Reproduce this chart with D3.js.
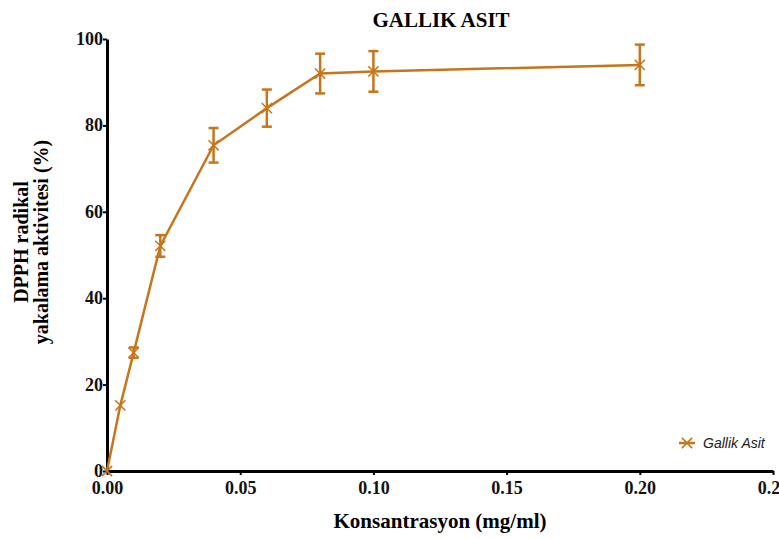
<!DOCTYPE html>
<html>
<head>
<meta charset="utf-8">
<script src="https://cdn.jsdelivr.net/npm/d3@7"></script>
<style>
  body { margin: 0; background: #fff; }
  svg { display: block; }
</style>
</head>
<body>
<div id="chart"></div>
<script>
// data
const concentrations = [0, 0.005, 0.01, 0.02, 0.04, 0.06, 0.08, 0.10, 0.20]
const activity = [0, 15.2, 27.4, 52.1, 75.4, 84.0, 92.0, 92.5, 94.0]
const errors = [0, 0, 1.2, 2.5, 4.0, 4.3, 4.6, 4.7, 4.7]
const xTicks = [0, 0.05, 0.10, 0.15, 0.20, 0.25]
const yTicks = [0, 20, 40, 60, 80, 100]
const seriesName = 'Gallik Asit'

const w = 779
const h = 539
const pLeft = 107, pRight = 773, pTop = 39, pBottom = 471
const color = '#c8741a'
const serif = '"Liberation Serif", "Times New Roman", serif'

const svg = d3.select('#chart')
    .append('svg')
    .attr('width', w)
    .attr('height', h)

const xScale = d3.scaleLinear().domain([0, 0.25]).range([pLeft, pRight])
const yScale = d3.scaleLinear().domain([0, 100]).range([pBottom, pTop])

// axes
const xAxis = d3.axisBottom(xScale)
    .tickValues(xTicks)
    .tickFormat(d3.format('.2f'))
    .tickSizeInner(4)
    .tickSizeOuter(0)
    .tickPadding(6)

const yAxis = d3.axisLeft(yScale)
    .tickValues(yTicks)
    .tickFormat(d3.format('d'))
    .tickSizeInner(4)
    .tickSizeOuter(0)
    .tickPadding(0)

const gx = svg.append('g')
    .attr('transform', 'translate(0,' + pBottom + ')')
    .call(xAxis)

const gy = svg.append('g')
    .attr('transform', 'translate(' + pLeft + ',0)')
    .call(yAxis)

for (const g of [gx, gy]) {
    g.select('.domain').attr('stroke', '#000').attr('stroke-width', 3)
    g.selectAll('.tick line').attr('stroke', '#000').attr('stroke-width', 2)
    g.selectAll('.tick text')
        .attr('fill', '#111')
        .style('font-family', serif)
        .style('font-weight', 'bold')
        .style('font-size', '18px')
}
gy.selectAll('.tick text').attr('dy', '0.3em')

// line
const line = d3.line()
    .x((d, i) => xScale(concentrations[i]))
    .y(d => yScale(d))

svg.append('path')
    .datum(activity)
    .attr('fill', 'none')
    .attr('stroke', color)
    .attr('stroke-width', 2.5)
    .attr('d', line)

// error bars
const errGroup = svg.append('g')
    .attr('stroke', color)
    .attr('stroke-width', 2.5)

activity.forEach((v, i) => {
    if (!errors[i]) return
    const x = xScale(concentrations[i])
    const y1 = yScale(v + errors[i])
    const y2 = yScale(v - errors[i])
    errGroup.append('line').attr('x1', x).attr('x2', x).attr('y1', y1).attr('y2', y2)
    errGroup.append('line').attr('x1', x - 5).attr('x2', x + 5).attr('y1', y1).attr('y2', y1)
    errGroup.append('line').attr('x1', x - 5).attr('x2', x + 5).attr('y1', y2).attr('y2', y2)
})

// markers
const marker = d3.symbol().type(d3.symbolTimes).size(70)
svg.selectAll('.marker')
    .data(activity)
    .enter()
    .append('path')
    .attr('class', 'marker')
    .attr('d', marker)
    .attr('fill', color)
    .attr('stroke', color)
    .attr('stroke-width', 1.5)
    .attr('transform', (d, i) => 'translate(' + xScale(concentrations[i]) + ',' + yScale(d) + ')')

// legend
const lg = svg.append('g').attr('transform', 'translate(687,443)')
lg.append('path').attr('d', marker).attr('fill', color).attr('stroke', color).attr('stroke-width', 1.5)
lg.append('line').attr('x1', -8).attr('x2', 8).attr('stroke', color).attr('stroke-width', 2.5)
lg.append('text')
    .attr('x', 16)
    .attr('y', 5)
    .attr('fill', '#222')
    .style('font-family', '"Liberation Sans", Arial, sans-serif')
    .style('font-style', 'italic')
    .style('font-size', '14px')
    .text(seriesName)

// title and axis labels
svg.append('text')
    .attr('x', 441)
    .attr('y', 27)
    .attr('text-anchor', 'middle')
    .style('font-family', serif)
    .style('font-weight', 'bold')
    .style('font-size', '21px')
    .text('GALLIK ASIT')

svg.append('text')
    .attr('x', 440)
    .attr('y', 528)
    .attr('text-anchor', 'middle')
    .style('font-family', serif)
    .style('font-weight', 'bold')
    .style('font-size', '21px')
    .text('Konsantrasyon (mg/ml)')

const yl = svg.append('text')
    .attr('transform', 'translate(28,242) rotate(-90)')
    .attr('text-anchor', 'middle')
    .style('font-family', serif)
    .style('font-weight', 'bold')
    .style('font-size', '20px')
yl.append('tspan').attr('x', 0).attr('y', 0).text('DPPH radikal')
yl.append('tspan').attr('x', 0).attr('y', 20).text('yakalama aktivitesi (%)')
</script>
</body>
</html>
